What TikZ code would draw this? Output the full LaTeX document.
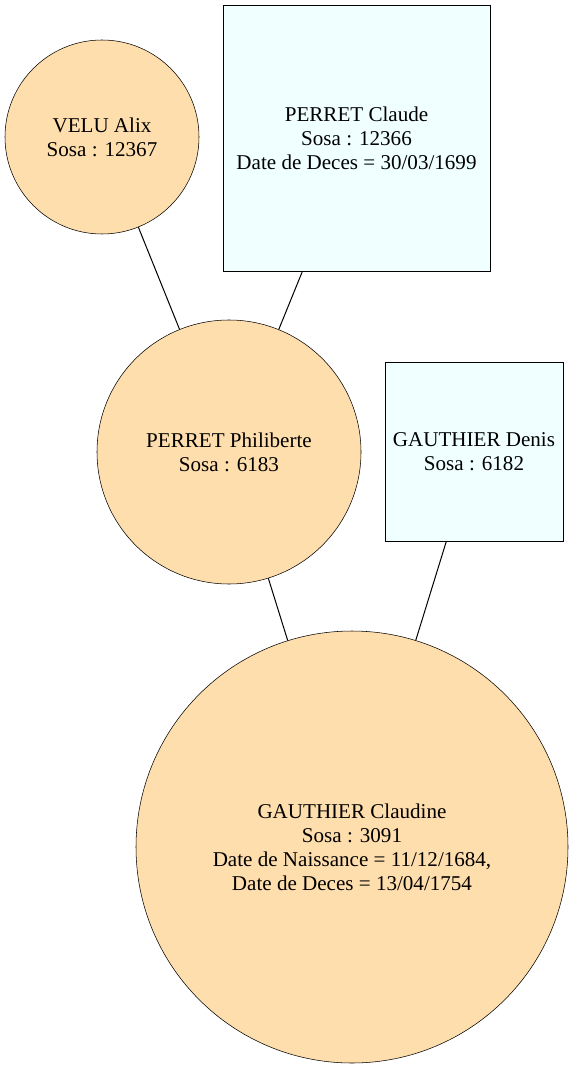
\documentclass[tikz,border=0pt]{standalone}
\usepackage{fontspec}
\setmainfont{Liberation Serif}
\begin{document}
\begin{tikzpicture}[x=0.75pt,y=-0.75pt,
  person/.style={circle,draw=black,fill=navajo,inner sep=0pt,align=center,font=\fontsize{15.8}{18}\selectfont},
  spouse/.style={rectangle,draw=black,fill=azurefill,inner sep=0pt,align=center,font=\fontsize{15.8}{18}\selectfont},
  link/.style={draw=black,line width=0.75pt}]
\definecolor{navajo}{HTML}{FFDEAD}
\definecolor{azurefill}{HTML}{F0FFFF}
\useasboundingbox (0,0) rectangle (573,1069);
\node[person,minimum size=145.5pt] (velu) at (102,137) {VELU Alix\\Sosa : 12367};
\node[spouse,minimum width=200.25pt,minimum height=199.5pt] (claude) at (356.5,138) {PERRET Claude\\Sosa : 12366\\Date de Deces = 30/03/1699};
\node[person,minimum size=198pt] (phil) at (229,452) {PERRET Philiberte\\Sosa : 6183};
\node[spouse,minimum width=133.5pt,minimum height=134.25pt] (denis) at (474,451.5) {GAUTHIER Denis\\Sosa : 6182};
\node[person,minimum size=324pt] (claudine) at (352,847) {GAUTHIER Claudine\\Sosa : 3091\\Date de Naissance = 11/12/1684,\\Date de Deces = 13/04/1754};
\draw[link] (velu) -- (phil);
\draw[link] (claude) -- (phil);
\draw[link] (phil) -- (claudine);
\draw[link] (denis) -- (claudine);
\end{tikzpicture}
\end{document}
